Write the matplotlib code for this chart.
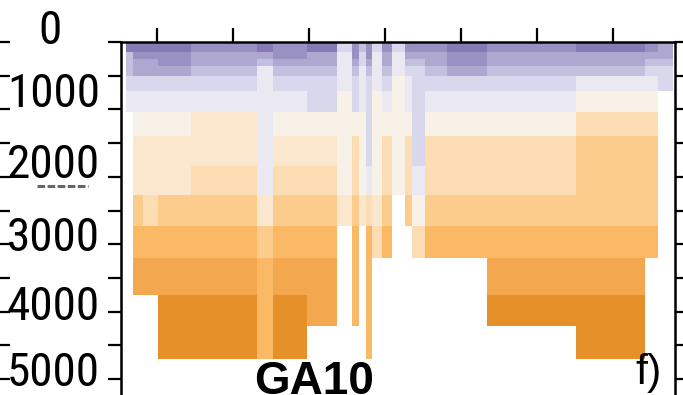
import matplotlib
matplotlib.use("Agg")
import matplotlib.pyplot as plt
import numpy as np
from matplotlib.colors import ListedColormap, BoundaryNorm
from matplotlib.lines import Line2D

# GA10 section: station column edges (longitude) and depth layer edges (m)
lon_edges = [-54.1, -53.2, -51.8, -49.9, -45.5, -36.9, -34.8, -30.3, -26.3,
             -24.4, -23.4, -22.5, -21.7, -20.4, -19.1, -17.4, -16.5, -14.8,
             -11.9, -6.6, 5.1, 14.2, 15.9, 17.8]
depth_edges = [0, 150, 250, 350, 500, 720, 1040, 1400, 1840, 2270, 2730,
               3200, 3750, 4210, 4700]

# class index per depth layer for each column, top to bottom (missing = below sea floor)
columns = [
    [0, 3, 3, 3, 4, 5],
    [0, 1, 2, 2, 4, 5, 6, 7, 7, 9, 10, 11],
    [0, 1, 2, 2, 4, 5, 6, 7, 7, 8, 10, 11],
    [0, 1, 1, 2, 4, 5, 6, 7, 7, 9, 10, 11, 12, 12],
    [1, 2, 2, 3, 4, 5, 7, 7, 8, 9, 10, 11, 12, 12],
    [0, 2, 3, 5, 5, 5, 5, 5, 5, 7, 9, 10, 10, 10],
    [1, 1, 2, 3, 4, 5, 6, 7, 8, 9, 10, 11, 12, 12],
    [0, 2, 2, 3, 4, 4, 6, 7, 8, 9, 10, 11, 11],
    [4, 5, 5, 5, 5, 6, 6, 6, 6, 7],
    [1, 1, 2, 3, 4, 4, 6, 8, 8, 9, 10, 10, 10],
    [3, 4, 4, 5, 5, 5, 6, 6, 6, 7],
    [1, 1, 2, 3, 4, 4, 4, 4, 5, 8, 10, 10, 10, 10],
    [4, 5, 5, 5, 5, 6, 6, 6, 6, 7, 8],
    [1, 2, 2, 3, 4, 5, 6, 8, 8, 9, 10],
    [4, 5, 5, 5, 6, 6, 6, 6, 6],
    [1, 2, 3, 4, 5, 5, 6, 8, 8, 9],
    [1, 2, 3, 4, 4, 4, 4, 4, 5, 6, 8],
    [1, 2, 2, 3, 4, 5, 6, 8, 8, 9, 10],
    [0, 1, 1, 2, 4, 5, 6, 8, 8, 9, 10],
    [1, 2, 2, 3, 4, 5, 6, 8, 8, 9, 10, 11, 12],
    [0, 2, 2, 3, 5, 6, 8, 9, 9, 9, 10, 11, 12, 12],
    [1, 2, 3, 4, 5, 6, 8, 9, 9, 9, 10],
    [2, 2, 3, 4, 4],
]

level_colors = ['#857ab5', '#9a91c3', '#aea8d1', '#c3bfdf', '#d8d7eb',
                '#eae9f2', '#f8f1e7', '#fbe7cd', '#fcdcb2', '#fccc8c',
                '#fbb966', '#f3a74e', '#e6902a']

lon_ticks = [-50, -40, -30, -20, -10, 0, 10]
depth_ticks = np.arange(0, 5001, 500)
label_depths = [0, 1000, 2000, 3000, 4000, 5000]
label_texts = ['0', '1000', '2000', '3000', '4000', '5000']
label_lift = [11, 15, 12, 6, 5, 6]   # px, labels sit a bit above their ticks
label_font = ['Roboto Condensed', 'Liberation Sans']

nlay = len(depth_edges) - 1
C = np.full((nlay, len(columns)), np.nan)
for j, col in enumerate(columns):
    C[:len(col), j] = col
C = np.ma.masked_invalid(C)

cmap = ListedColormap(level_colors)
norm = BoundaryNorm(np.arange(len(level_colors) + 1) - 0.5, cmap.N)

W, H = 683, 395
fig = plt.figure(figsize=(W / 100, H / 100), dpi=100)
ax = fig.add_axes([121 / W, 0, 554 / W, 353 / H])
ax.pcolormesh(lon_edges, depth_edges, C, cmap=cmap, norm=norm,
              shading='flat', edgecolors='none', antialiased=False)
ax.set_xlim(-54.74, 18.1)
ax.set_ylim(353 / 67.4 * 1000, 0)

for s in ['left', 'right', 'top']:
    ax.spines[s].set_linewidth(1.8)
ax.spines['bottom'].set_visible(False)

ax.set_xticks(lon_ticks)
ax.tick_params(axis='x', bottom=False, top=True, labelbottom=False,
               labeltop=False, direction='out', length=10, width=1.6)
ax.set_yticks(depth_ticks)
ax.tick_params(axis='y', left=True, right=True, labelleft=False,
               labelright=False, direction='out', length=9.5, width=1.6)

for d, t, lift in zip(label_depths, label_texts, label_lift):
    if t == '0':
        ax.annotate(t, xy=(0, d), xycoords=('axes fraction', 'data'),
                    xytext=(-71, lift), textcoords='offset pixels',
                    ha='center', va='center', fontsize=34, family=label_font)
    else:
        ax.annotate(t, xy=(0, d), xycoords=('axes fraction', 'data'),
                    xytext=(-21, lift), textcoords='offset pixels',
                    ha='right', va='center', fontsize=34, family=label_font)

# tick marks of the neighbouring panel, cut off at the left edge
gx = fig.add_axes([-14 / W, 0, 13 / W, 353 / H])
gx.patch.set_visible(False)
for s in gx.spines.values():
    s.set_visible(False)
gx.set_ylim(ax.get_ylim())
gx.set_xticks([])
gx.yaxis.tick_right()
gx.set_yticks(depth_ticks)
gx.tick_params(axis='y', right=True, labelright=False, direction='out',
               length=8, width=1.6)

# leftover dashes under the 2000 label
fig.add_artist(Line2D([37 / W, 88 / W], [1 - 186 / H] * 2,
                      transform=fig.transFigure, color='#666666', lw=2.2,
                      linestyle=(0, (2.5, 0.8))))

fig.text(314 / W, 1 - 360 / H, 'GA10', ha='center', va='top',
         fontsize=33, fontweight='bold', family='Liberation Sans')
fig.text(649 / W, 1 - 373 / H, 'f)', ha='center', va='center',
         fontsize=31, family='Liberation Sans')

fig.savefig('out.png', dpi=100)
